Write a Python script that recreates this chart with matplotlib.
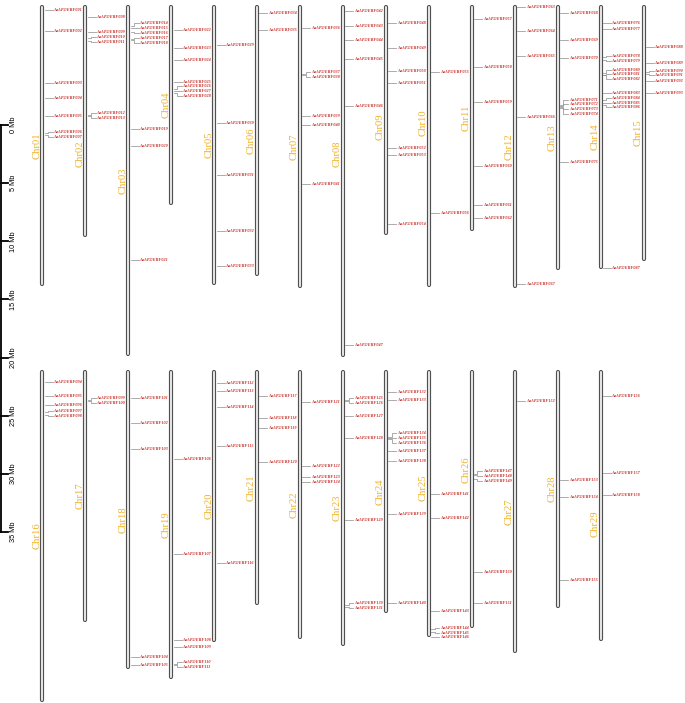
import numpy as np
import matplotlib.pyplot as plt

# chromosome lengths (Mb)
chrom_top = ['Chr01', 'Chr02', 'Chr03', 'Chr04', 'Chr05', 'Chr06', 'Chr07', 'Chr08',
             'Chr09', 'Chr10', 'Chr11', 'Chr12', 'Chr13', 'Chr14', 'Chr15']
len_top = [24.16, 19.95, 30.18, 17.20, 24.08, 23.30, 24.33, 30.27,
           19.78, 24.25, 19.43, 24.33, 22.79, 22.70, 22.01]
chrom_bot = ['Chr16', 'Chr17', 'Chr18', 'Chr19', 'Chr20', 'Chr21', 'Chr22',
             'Chr23', 'Chr24', 'Chr25', 'Chr26', 'Chr27', 'Chr28', 'Chr29']
len_bot = [28.55, 21.67, 25.71, 26.57, 23.39, 20.21, 23.13,
           23.73, 20.89, 22.96, 22.18, 24.33, 20.46, 23.30]

# gene positions on each chromosome (Mb), genes numbered in this order
genes_top = [
    [0.46, 2.24, 6.73, 8.02, 9.52, 11.05, 11.22],
    [1.03, 2.30, 2.88, 3.10, 9.42, 9.54],
    [1.81, 1.98, 2.32, 2.92, 3.01, 10.64, 12.12, 21.95],
    [2.18, 3.72, 4.75, 6.62, 7.22, 7.39, 7.57],
    [3.44, 10.17, 14.62, 19.46, 22.42],
    [0.71, 2.15],
    [1.98, 5.93, 6.06, 9.57, 10.34, 15.39],
    [0.52, 1.78, 3.01, 4.67, 8.71, 29.23],
    [1.57, 3.67, 5.70, 6.71, 12.27, 12.92, 18.83],
    [5.76, 17.86],
    [1.18, 5.33, 8.37, 13.87, 17.20, 18.34],
    [0.17, 2.24, 4.41, 9.66, 23.96],
    [0.69, 2.98, 4.53, 8.60, 8.68, 8.81, 8.90, 13.53],
    [1.57, 2.09, 4.47, 4.73, 5.89, 5.98, 6.06, 7.57, 8.17, 8.43, 8.60, 22.61],
    [3.61, 4.96, 5.76, 5.93, 6.56, 7.54],
]
genes_bot = [
    [1.03, 2.21, 3.04, 3.65, 3.85],
    [2.54, 2.67],
    [2.43, 4.58, 6.79, 24.68, 25.34],
    [7.65, 15.85, 23.22, 23.84, 25.24, 25.38],
    [1.14, 1.81, 3.16, 6.51, 16.59],
    [2.24, 4.15, 4.99, 7.94],
    [2.78, 8.25, 9.23, 9.63],
    [2.54, 2.68, 3.98, 5.85, 12.90, 20.16, 20.36],
    [1.89, 2.55, 5.72, 5.83, 5.94, 6.96, 7.82, 12.41, 20.01],
    [10.66, 12.70, 20.70, 22.27, 22.53, 22.93],
    [8.94, 9.03, 9.37, 17.37, 20.03],
    [2.67],
    [9.46, 10.92, 18.06],
    [2.21, 8.88, 10.72],
]

scale_ticks = [0, 5, 10, 15, 20, 25, 30, 35]

# layout
px_mb = 11.63
row_start = [-10.32, 21.07]
x0, dx = 42.4, 42.96
label_gap = 4.8 / px_mb
name_pos = {'Chr02': 12.81, 'Chr08': 12.81, 'Chr09': 10.49, 'Chr10': 10.15,
            'Chr25': 10.10, 'Chr26': 8.60, 'Chr29': 13.20}
gold = '#EFB22B'
red = '#C8302A'


def spread(pos, gap):
    groups = [[p] for p in sorted(pos)]
    def bounds(g):
        s = np.mean(g) - gap * (len(g) - 1) / 2
        return s, s + gap * (len(g) - 1)
    merged = True
    while merged:
        merged = False
        for i in range(len(groups) - 1):
            if bounds(groups[i + 1])[0] - bounds(groups[i])[1] < gap - 1e-9:
                groups[i] = groups[i] + groups.pop(i + 1)
                merged = True
                break
    out = []
    for g in groups:
        s = bounds(g)[0]
        out += [s + k * gap for k in range(len(g))]
    return out


fig = plt.figure(figsize=(6.85, 7.03), dpi=100)
ax = fig.add_axes([0, 0, 1, 1])
ax.set_xlim(0, 685)
ax.set_ylim(578 / px_mb, -125 / px_mb)
ax.axis('off')

n = 1
for row, (names, lens, genes) in enumerate([(chrom_top, len_top, genes_top),
                                            (chrom_bot, len_bot, genes_bot)]):
    y0 = row_start[row]
    for i, (name, L, gp) in enumerate(zip(names, lens, genes)):
        cx = x0 + i * dx
        cap = 1.6 / px_mb
        ax.plot([cx, cx], [y0 + cap, y0 + L - cap], color='#4a4a4a', lw=3.0,
                solid_capstyle='round', zorder=3)
        ax.plot([cx, cx], [y0 + cap, y0 + L - cap], color='#e2e2e2', lw=1.5,
                solid_capstyle='round', zorder=4)
        ax.text(cx - 5.6, y0 + name_pos.get(name, L / 2), name, rotation=90,
                ha='center', va='center', color=gold, fontsize=7.6,
                family='Liberation Serif')
        lab = spread(gp, label_gap)
        for g, l in zip(sorted(gp), lab):
            ax.plot([cx + 2.3, cx + 5.5, cx + 5.5, cx + 10.3],
                    [y0 + g, y0 + g, y0 + l, y0 + l],
                    color='#8a8a8a', lw=0.5, zorder=2)
            ax.text(cx + 10.8, y0 + l, f'AaAP2/ERF{n:03d}', ha='left', va='center',
                    color=red, fontsize=3.1, style='italic', weight='bold',
                    family='Liberation Serif')
            n += 1

# scale bar
ax.plot([1.5, 1.5], [scale_ticks[0], scale_ticks[-1]], color='black', lw=1.3)
for t in scale_ticks:
    ax.plot([0, 8.5], [t, t], color='black', lw=1.3)
    ax.text(14, t, f'{t} Mb', rotation=90, ha='center', va='center',
            fontsize=5.3, family='Liberation Sans')

fig.savefig('out.png', dpi=100)
